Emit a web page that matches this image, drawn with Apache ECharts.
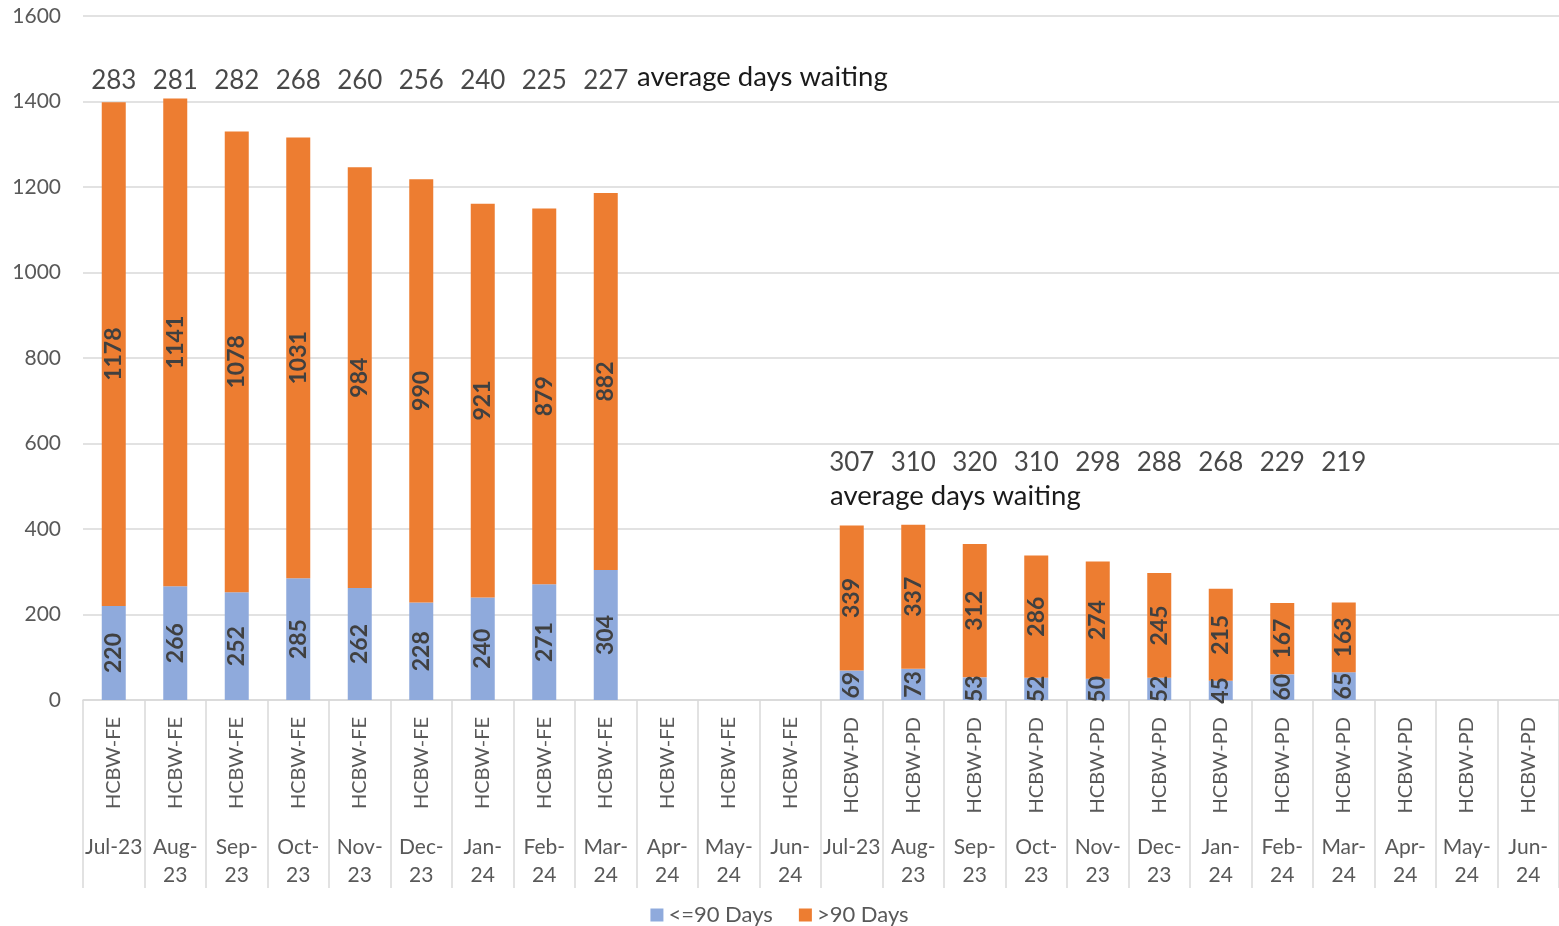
<!DOCTYPE html>
<html>
<head>
<meta charset="utf-8">
<script src="https://cdn.jsdelivr.net/npm/echarts@6/dist/echarts.min.js"></script>
<style>
html,body{margin:0;padding:0;background:#fff;}
#c{width:1559px;height:926px;}
</style>
</head>
<body>
<div id="c"></div>
<script>
// ---- data ----
const groups = ['HCBW-FE','HCBW-FE','HCBW-FE','HCBW-FE','HCBW-FE','HCBW-FE','HCBW-FE','HCBW-FE','HCBW-FE','HCBW-FE','HCBW-FE','HCBW-FE',
                'HCBW-PD','HCBW-PD','HCBW-PD','HCBW-PD','HCBW-PD','HCBW-PD','HCBW-PD','HCBW-PD','HCBW-PD','HCBW-PD','HCBW-PD','HCBW-PD'];
const months = ['Jul-23','Aug-\n23','Sep-\n23','Oct-\n23','Nov-\n23','Dec-\n23','Jan-\n24','Feb-\n24','Mar-\n24','Apr-\n24','May-\n24','Jun-\n24',
                'Jul-23','Aug-\n23','Sep-\n23','Oct-\n23','Nov-\n23','Dec-\n23','Jan-\n24','Feb-\n24','Mar-\n24','Apr-\n24','May-\n24','Jun-\n24'];
const under90 = [220,266,252,285,262,228,240,271,304,null,null,null, 69,73,53,52,50,52,45,60,65,null,null,null];
const over90  = [1178,1141,1078,1031,984,990,921,879,882,null,null,null, 339,337,312,286,274,245,215,167,163,null,null,null];
const avgDays = [283,281,282,268,260,256,240,225,227,null,null,null, 307,310,320,310,298,288,268,229,219,null,null,null];
const yTicks = {min:0, max:1600, interval:200};
const avgCaption = 'average days waiting';

// ---- chart ----
const FONT = 'Lato, "Noto Sans", sans-serif';
const FE_Y = 1450, PD_Y = 555;
const avgPoints = avgDays.map((v,i)=> v==null ? null : [i, i<12 ? FE_Y : PD_Y, v]);

const chart = echarts.init(document.getElementById('c'));
chart.setOption({
  animation:false,
  textStyle:{fontFamily:FONT},
  grid:{left:83, right:0, top:16, bottom:226, containLabel:false},
  legend:{
    top:899, left:'center', itemWidth:13, itemHeight:13, itemGap:26, icon:'rect',
    data:['<=90 Days','>90 Days'],
    textStyle:{fontSize:22, color:'#595959', fontFamily:FONT}
  },
  xAxis:[{
    type:'category', data:groups, gridIndex:0,
    axisLine:{show:true, lineStyle:{color:'#d9d9d9', width:1.5}},
    axisTick:{show:true, interval:0, length:188, lineStyle:{color:'#d9d9d9', width:1.5}},
    axisLabel:{interval:0, rotate:90, margin:17, fontSize:20, color:'#595959', fontFamily:FONT}
  },{
    type:'category', data:months, gridIndex:0, position:'bottom', offset:125,
    axisLine:{show:false}, axisTick:{show:false},
    axisLabel:{interval:0, margin:8, fontSize:21, lineHeight:28, color:'#595959', fontFamily:FONT}
  }],
  yAxis:{
    type:'value', min:yTicks.min, max:yTicks.max, interval:yTicks.interval,
    axisLine:{show:false}, axisTick:{show:false},
    axisLabel:{fontSize:21, color:'#595959', margin:22, fontFamily:FONT, formatter:v=>String(v)},
    splitLine:{lineStyle:{color:'#d9d9d9', width:1.5}}
  },
  series:[{
    name:'<=90 Days', type:'bar', stack:'a', barWidth:24, data:under90,
    itemStyle:{color:'#8faadc'},
    label:{show:true, position:'inside', rotate:90, fontSize:23, fontWeight:'bold', color:'#404040', fontFamily:FONT}
  },{
    name:'>90 Days', type:'bar', stack:'a', barWidth:24, data:over90,
    itemStyle:{color:'#ed7d31'},
    label:{show:true, position:'inside', rotate:90, fontSize:23, fontWeight:'bold', color:'#404040', fontFamily:FONT}
  },{
    name:'avg', type:'scatter', symbolSize:0, data:avgPoints, silent:true,
    label:{show:true, position:'inside', formatter:p=>p.data[2], fontSize:26, color:'#1a1a1a', fontFamily:FONT}
  }],
  graphic:[
    {type:'text', left:637, top:63, style:{text:avgCaption, fontSize:27.5, fill:'#1a1a1a', fontFamily:FONT}},
    {type:'text', left:830, top:482, style:{text:avgCaption, fontSize:27.5, fill:'#1a1a1a', fontFamily:FONT}}
  ]
});
</script>
</body>
</html>
